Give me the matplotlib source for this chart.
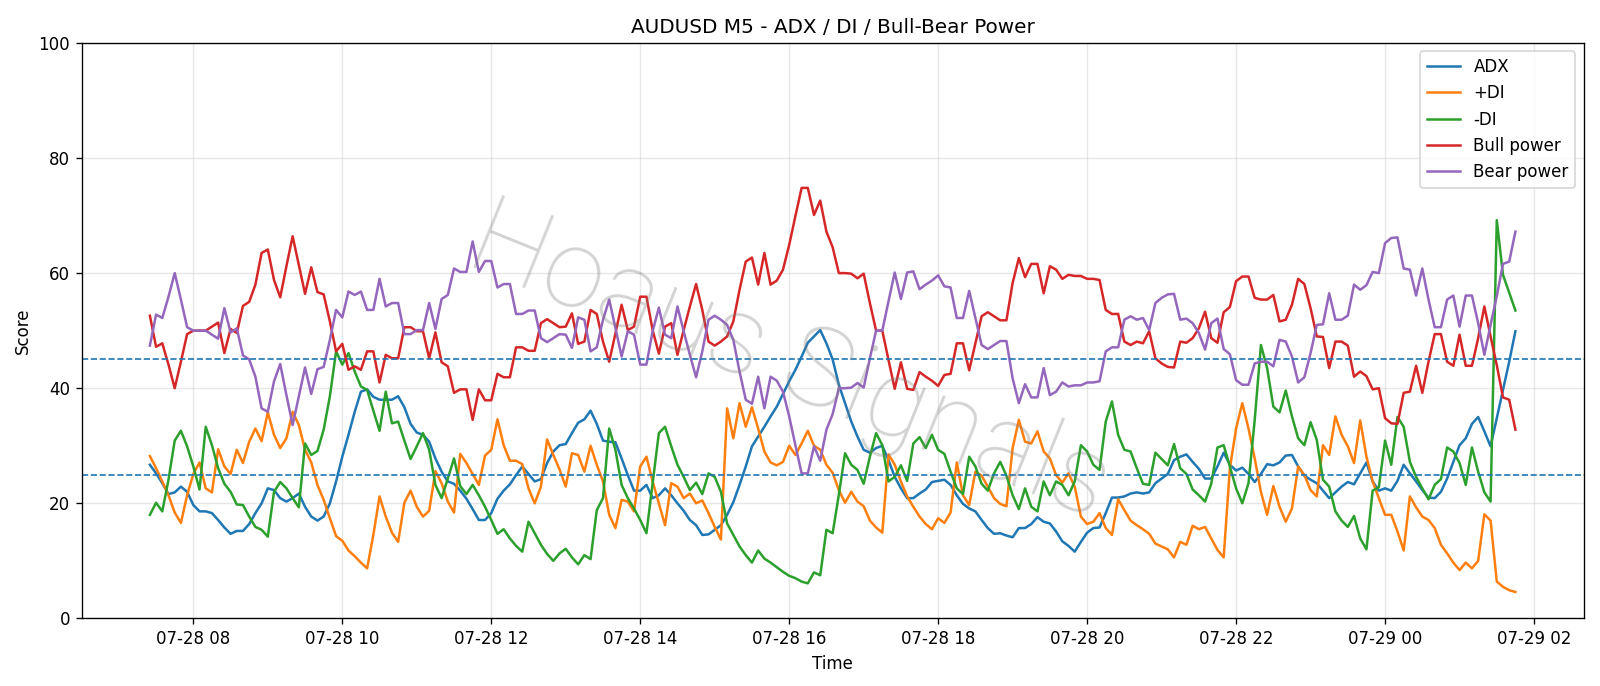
import numpy as np
import pandas as pd
import matplotlib
matplotlib.use("Agg")
import matplotlib.pyplot as plt
import matplotlib.dates as mdates

# 5-minute bars, 07-28 07:25 -> 07-29 01:45
times = pd.date_range("2025-07-28 07:25", periods=221, freq="5min")

adx = [
    26.7, 25.2, 23.5, 21.6, 21.9, 22.9, 22.0, 19.7, 18.6, 18.6,
    18.3, 17.1, 15.8, 14.7, 15.2, 15.2, 16.4, 18.3, 20.0, 22.6,
    22.3, 20.9, 20.3, 20.9, 21.7, 19.4, 17.7, 17.0, 17.7, 20.0,
    23.8, 28.1, 31.9, 35.9, 39.4, 39.8, 38.5, 38.0, 38.0, 38.0,
    38.6, 36.7, 33.8, 32.3, 31.9, 30.7, 27.8, 25.5, 23.8, 23.4,
    22.2, 20.8, 19.0, 17.1, 17.1, 18.3, 20.8, 22.2, 23.3, 24.9,
    26.4, 25.1, 23.8, 24.2, 27.0, 29.0, 30.1, 30.3, 32.2, 34.0,
    34.6, 36.1, 33.8, 30.9, 30.7, 30.6, 27.8, 24.9, 22.2, 22.2,
    23.2, 20.9, 21.4, 22.6, 21.4, 20.0, 18.7, 17.1, 16.2, 14.5,
    14.6, 15.4, 16.2, 18.0, 20.2, 23.2, 26.4, 29.9, 31.6, 33.3,
    35.1, 36.8, 39.0, 41.2, 43.2, 45.5, 47.9, 49.0, 50.1, 47.8,
    45.0, 40.6, 37.4, 34.2, 31.6, 29.3, 28.8, 29.6, 30.0, 27.5,
    24.6, 22.6, 20.9, 20.9, 21.7, 22.4, 23.7, 23.9, 24.1, 23.2,
    21.4, 19.9, 19.1, 18.6, 17.1, 15.7, 14.7, 14.8, 14.4, 14.1,
    15.7, 15.7, 16.4, 17.6, 16.8, 16.5, 15.1, 13.4, 12.6, 11.6,
    13.3, 14.9, 15.7, 15.8, 18.3, 21.0, 21.0, 21.2, 21.7, 21.9,
    21.7, 21.9, 23.5, 24.3, 25.1, 27.5, 28.1, 28.5, 27.2, 26.0,
    24.3, 24.3, 26.4, 28.8, 26.7, 25.7, 26.2, 25.1, 23.7, 25.1,
    26.8, 26.6, 27.1, 28.3, 28.4, 26.4, 24.8, 24.1, 23.5, 22.2,
    20.9, 21.9, 22.9, 23.7, 23.3, 25.2, 27.1, 23.8, 22.2, 22.6,
    22.2, 23.9, 26.7, 25.2, 23.8, 22.3, 21.0, 20.9, 22.0, 24.3,
    27.2, 30.1, 31.3, 33.8, 35.0, 32.5, 29.9, 34.8, 39.7, 44.6,
    49.9,
]

plus_di = [
    28.2, 26.1, 23.8, 21.4, 18.4, 16.6, 21.4, 25.1, 27.1, 22.6,
    21.9, 29.4, 26.4, 25.1, 29.3, 27.0, 30.7, 33.0, 30.8, 35.8,
    31.9, 29.6, 31.3, 35.9, 33.6, 29.3, 27.1, 23.2, 20.6, 17.4,
    14.3, 13.5, 11.8, 10.8, 9.7, 8.7, 14.5, 21.2, 17.7, 14.9,
    13.3, 20.1, 22.2, 19.4, 17.7, 18.7, 25.6, 23.5, 20.3, 18.4,
    28.6, 27.0, 25.1, 23.2, 28.3, 29.3, 34.6, 30.1, 27.4, 27.4,
    26.8, 22.6, 20.0, 22.9, 31.1, 28.4, 25.9, 22.9, 28.7, 28.4,
    25.5, 30.0, 26.7, 23.8, 18.0, 15.7, 20.6, 20.3, 18.6, 26.4,
    28.1, 23.8, 20.0, 16.2, 23.5, 22.9, 20.9, 21.7, 20.0, 20.5,
    18.3, 15.9, 13.7, 36.5, 31.3, 37.4, 33.3, 36.7, 33.0, 29.0,
    27.1, 26.6, 27.2, 30.0, 28.4, 30.4, 32.6, 30.0, 29.3, 26.7,
    25.3, 22.3, 20.1, 22.0, 20.3, 19.5, 17.0, 15.8, 14.9, 28.5,
    26.7, 23.8, 21.2, 19.4, 17.7, 16.4, 15.5, 17.4, 16.6, 18.4,
    27.1, 21.4, 19.7, 25.5, 24.8, 22.9, 20.9, 19.9, 19.5, 29.6,
    34.5, 30.7, 30.4, 32.5, 29.0, 27.8, 24.9, 23.6, 25.2, 22.9,
    17.7, 16.4, 16.8, 18.3, 15.7, 14.5, 20.7, 18.8, 17.0, 16.2,
    15.5, 14.7, 13.0, 12.5, 12.0, 10.6, 13.3, 12.8, 16.1, 15.5,
    15.9, 13.9, 11.9, 10.6, 26.1, 33.0, 37.4, 33.0, 27.8, 22.0,
    18.0, 23.0, 19.4, 16.8, 19.1, 26.4, 24.9, 22.3, 21.2, 30.1,
    28.4, 35.1, 31.9, 29.9, 27.0, 34.4, 28.1, 23.8, 20.9, 18.0,
    18.0, 15.1, 11.8, 21.2, 19.3, 17.7, 17.1, 15.7, 12.8, 11.3,
    9.7, 8.4, 9.7, 8.7, 10.0, 18.1, 17.0, 6.4, 5.5, 4.9,
    4.6,
]

minus_di = [
    18.0, 20.1, 18.6, 24.1, 30.9, 32.6, 29.9, 26.4, 22.4, 33.3,
    30.1, 26.1, 23.4, 22.0, 19.8, 19.7, 17.7, 15.9, 15.4, 14.2,
    22.0, 23.7, 22.6, 20.9, 19.3, 30.4, 28.4, 29.1, 32.8, 38.6,
    46.4, 44.1, 46.1, 42.9, 40.3, 39.7, 36.1, 32.6, 39.4, 33.9,
    34.2, 30.9, 27.7, 29.9, 32.2, 29.3, 23.2, 20.9, 24.3, 27.8,
    23.0, 21.6, 23.2, 21.4, 19.4, 17.1, 14.7, 15.5, 13.9, 12.6,
    11.6, 16.8, 14.8, 12.8, 11.2, 10.0, 11.3, 12.1, 10.6, 9.4,
    11.0, 10.3, 18.8, 20.9, 33.0, 29.3, 23.2, 20.9, 19.1, 17.1,
    14.8, 23.5, 32.2, 33.3, 29.9, 26.7, 24.6, 22.3, 23.6, 21.6,
    25.2, 24.6, 22.0, 16.5, 14.5, 12.5, 11.0, 9.7, 11.8, 10.4,
    9.7, 8.9, 8.1, 7.4, 7.0, 6.4, 6.1, 8.0, 7.5, 15.4,
    14.8, 21.5, 28.7, 26.7, 25.8, 23.4, 28.1, 32.2, 30.1, 23.8,
    24.6, 26.6, 23.9, 30.4, 31.5, 29.6, 31.9, 29.3, 28.6, 25.5,
    22.6, 21.6, 28.1, 26.4, 23.4, 22.2, 25.2, 27.2, 24.8, 21.4,
    19.0, 22.6, 19.4, 18.6, 23.8, 21.4, 23.8, 23.2, 21.4, 23.8,
    30.1, 29.0, 26.7, 25.8, 34.2, 37.7, 31.9, 29.3, 29.0, 26.1,
    23.4, 23.2, 28.8, 27.7, 26.6, 30.3, 26.1, 25.1, 22.4, 21.4,
    20.3, 23.4, 29.7, 30.1, 26.4, 22.6, 20.0, 23.5, 34.5, 47.5,
    43.5, 36.8, 35.8, 39.6, 35.1, 31.3, 30.1, 34.1, 31.0, 24.1,
    22.9, 18.6, 17.0, 15.9, 17.8, 13.9, 12.0, 22.2, 22.8, 30.9,
    26.7, 35.0, 33.3, 27.2, 24.6, 22.6, 20.7, 23.2, 24.2, 29.7,
    29.0, 27.0, 23.2, 29.7, 25.5, 21.9, 20.3, 69.2, 59.7, 56.6,
    53.5,
]

bull_power = [
    52.6, 47.2, 47.8, 44.1, 40.0, 44.6, 49.4, 50.0, 50.0, 50.0,
    50.7, 51.4, 46.1, 50.3, 49.6, 54.3, 55.0, 58.0, 63.5, 64.1,
    58.8, 55.8, 61.2, 66.4, 61.4, 56.4, 61.0, 56.7, 56.3, 51.6,
    46.4, 47.7, 43.2, 43.8, 43.2, 46.4, 46.4, 41.0, 45.8, 45.2,
    45.2, 50.6, 50.6, 49.9, 49.9, 45.2, 49.7, 44.5, 43.8, 39.2,
    39.8, 39.8, 34.5, 39.8, 37.9, 37.9, 42.5, 41.9, 41.9, 47.1,
    47.1, 46.5, 46.5, 51.3, 52.0, 51.3, 50.6, 50.7, 53.0, 47.7,
    48.1, 53.6, 52.9, 48.1, 44.6, 49.5, 54.5, 50.1, 50.7, 55.9,
    55.9, 50.1, 46.0, 50.7, 51.3, 45.8, 50.1, 54.2, 58.1, 53.6,
    48.1, 47.4, 48.1, 49.0, 51.6, 57.1, 62.0, 62.7, 58.0, 63.5,
    58.0, 58.7, 60.6, 64.9, 69.9, 74.8, 74.8, 70.1, 72.6, 67.2,
    64.5, 60.0, 60.0, 59.9, 59.1, 59.9, 54.8, 50.0, 50.0, 44.9,
    39.9, 44.5, 39.9, 39.7, 42.8, 42.0, 41.3, 40.4, 42.3, 42.5,
    47.8, 47.8, 43.1, 47.8, 52.5, 53.2, 52.5, 51.8, 51.8, 58.3,
    62.6, 59.3, 61.6, 61.6, 56.5, 61.2, 60.6, 59.0, 59.7, 59.5,
    59.5, 59.0, 59.0, 58.8, 53.6, 52.9, 52.9, 48.1, 47.5, 48.1,
    47.8, 49.9, 45.2, 44.3, 43.7, 43.6, 48.1, 47.9, 48.7, 50.4,
    53.3, 48.7, 47.9, 53.2, 54.1, 58.6, 59.4, 59.4, 55.7, 55.4,
    55.4, 56.2, 51.6, 51.9, 54.5, 59.0, 58.1, 53.9, 49.0, 48.9,
    43.5, 48.1, 48.1, 47.4, 42.0, 42.9, 42.1, 39.8, 40.0, 34.8,
    33.9, 33.8, 39.2, 39.4, 43.9, 39.2, 44.6, 49.4, 49.4, 44.6,
    43.9, 49.3, 43.9, 43.9, 48.7, 54.2, 49.0, 44.0, 38.4, 38.0,
    32.8,
]

bear_power = [
    47.4, 52.8, 52.2, 55.9, 60.0, 55.4, 50.6, 50.0, 50.0, 50.0,
    49.3, 48.6, 53.9, 49.7, 50.4, 45.7, 45.0, 42.0, 36.5, 35.9,
    41.2, 44.2, 38.8, 33.6, 38.6, 43.6, 39.0, 43.3, 43.7, 48.4,
    53.6, 52.3, 56.8, 56.2, 56.8, 53.6, 53.6, 59.0, 54.2, 54.8,
    54.8, 49.4, 49.4, 50.1, 50.1, 54.8, 50.3, 55.5, 56.2, 60.8,
    60.2, 60.2, 65.5, 60.2, 62.1, 62.1, 57.5, 58.1, 58.1, 52.9,
    52.9, 53.5, 53.5, 48.7, 48.0, 48.7, 49.4, 49.3, 47.0, 52.3,
    51.9, 46.4, 47.1, 51.9, 55.4, 50.5, 45.5, 49.9, 49.3, 44.1,
    44.1, 49.9, 54.0, 49.3, 48.7, 54.2, 49.9, 45.8, 41.9, 46.4,
    51.9, 52.6, 51.9, 51.0, 48.4, 42.9, 38.0, 37.3, 42.0, 36.5,
    42.0, 41.3, 39.4, 35.1, 30.1, 25.2, 25.2, 29.9, 27.4, 32.8,
    35.5, 40.0, 40.0, 40.1, 40.9, 40.1, 45.2, 50.0, 50.0, 55.1,
    60.1, 55.5, 60.1, 60.3, 57.2, 58.0, 58.7, 59.6, 57.7, 57.5,
    52.2, 52.2, 56.9, 52.2, 47.5, 46.8, 47.5, 48.2, 48.2, 41.7,
    37.4, 40.7, 38.4, 38.4, 43.5, 38.8, 39.4, 41.0, 40.3, 40.5,
    40.5, 41.0, 41.0, 41.2, 46.4, 47.1, 47.1, 51.9, 52.5, 51.9,
    52.2, 50.1, 54.8, 55.7, 56.3, 56.4, 51.9, 52.1, 51.3, 49.6,
    46.7, 51.3, 52.1, 46.8, 45.9, 41.4, 40.6, 40.6, 44.3, 44.6,
    44.6, 43.8, 48.4, 48.1, 45.5, 41.0, 41.9, 46.1, 51.0, 51.1,
    56.5, 51.9, 51.9, 52.6, 58.0, 57.1, 57.9, 60.2, 60.0, 65.2,
    66.1, 66.2, 60.8, 60.6, 56.1, 60.8, 55.4, 50.6, 50.6, 55.4,
    56.1, 50.7, 56.1, 56.1, 51.3, 45.8, 51.0, 56.0, 61.6, 62.0,
    67.2,
]

levels = [25, 45]

fig = plt.figure(figsize=(1600 / 120, 686 / 120), dpi=120)
ax = fig.add_axes([0.051, 0.0985, 0.9388, 0.839])

ax.plot(times, adx, label="ADX")
ax.plot(times, plus_di, label="+DI")
ax.plot(times, minus_di, label="-DI")
ax.plot(times, bull_power, label="Bull power")
ax.plot(times, bear_power, label="Bear power")
for lv in levels:
    ax.axhline(lv, linestyle="--", linewidth=1)

ax.set_ylim(0, 100)
ax.grid(True, alpha=0.3)
ax.xaxis.set_major_locator(mdates.HourLocator(interval=2))
ax.xaxis.set_major_formatter(mdates.DateFormatter("%m-%d %H"))
ax.set_title("AUDUSD M5 - ADX / DI / Bull-Bear Power")
ax.set_xlabel("Time")
ax.set_ylabel("Score")
ax.legend(loc="upper right")

# watermark
fig.text(0.493, 0.47, "Hoaus Signals", fontsize=66, rotation=-22,
         family=["Roboto", "DejaVu Sans"], fontweight=100,
         color="gray", alpha=0.35, ha="center", va="center", zorder=10)

fig.savefig("out.png", dpi=120)
